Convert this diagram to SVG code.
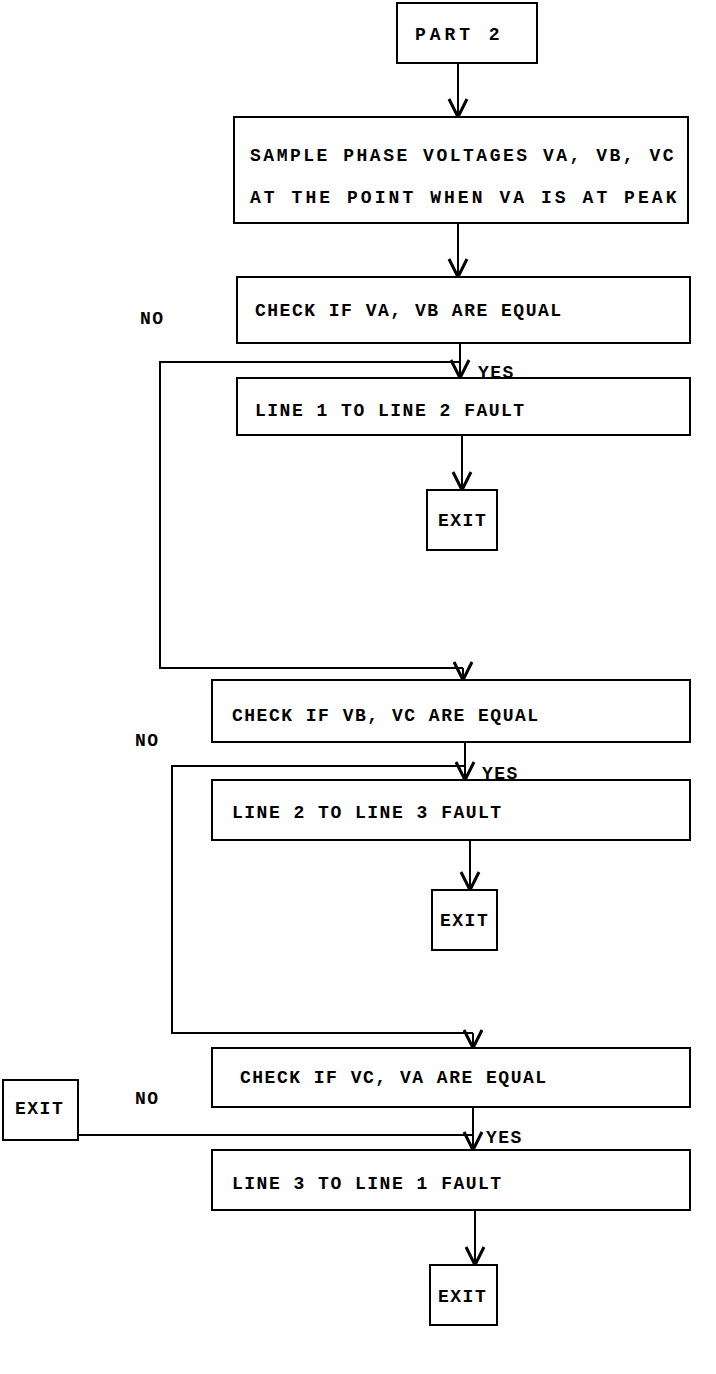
<svg xmlns="http://www.w3.org/2000/svg" width="716" height="1374" viewBox="0 0 716 1374">
<defs>
<marker id="ah" markerUnits="userSpaceOnUse" markerWidth="24" markerHeight="24" viewBox="-14 -8 16 16" refX="0" refY="0" orient="auto">
<path d="M-12,-6 L0,0 L-12,6" fill="none" stroke="#000" stroke-width="2"/>
</marker>
</defs>
<style>
rect{fill:#fff;stroke:#000;stroke-width:2}
text{font-family:"Liberation Mono","DejaVu Sans Mono",monospace;font-size:18px;font-weight:bold;letter-spacing:1.5px;fill:#000}
.c path{fill:none;stroke:#000;stroke-width:2}
.c .a{marker-end:url(#ah)}
</style>
<rect x="0" y="0" width="716" height="1374" style="fill:#fff;stroke:none"/>
<g class="c" id="connectors">
<path class="a" d="M458,63 V117"/>
<path class="a" d="M458,223 V277"/>
<path class="a" d="M460,343 V378"/>
<path d="M460,362 H160 V668 H463"/>
<path class="a" d="M463,668 V680"/>
<path class="a" d="M462,435 V490"/>
<path class="a" d="M465,742 V780"/>
<path d="M465,766 H172 V1033 H473"/>
<path class="a" d="M473,1033 V1048"/>
<path class="a" d="M470,840 V890"/>
<path class="a" d="M473,1107 V1150"/>
<path d="M473,1135 H78"/>
<path class="a" d="M475,1210 V1265"/>
</g>
<g id="n-part2"><rect x="397" y="3" width="140" height="60"/><text x="415" y="40" textLength="86" lengthAdjust="spacing">PART 2</text></g>
<g id="n-sample"><rect x="234" y="117" width="454" height="106"/><text x="250" y="161" textLength="425" lengthAdjust="spacing">SAMPLE PHASE VOLTAGES VA, VB, VC</text><text x="250" y="203" textLength="428" lengthAdjust="spacing">AT THE POINT WHEN VA IS AT PEAK</text></g>
<g id="n-check1"><rect x="237" y="277" width="453" height="66"/><text x="255" y="316">CHECK IF VA, VB ARE EQUAL</text></g>
<g id="l-no1"><text x="140" y="324">NO</text></g>
<g id="l-yes1"><text x="478" y="378">YES</text></g>
<g id="n-fault12"><rect x="237" y="378" width="453" height="57"/><text x="255" y="416">LINE 1 TO LINE 2 FAULT</text></g>
<g id="n-exit1"><rect x="427" y="490" width="70" height="60"/><text x="438" y="526">EXIT</text></g>
<g id="n-check2"><rect x="212" y="680" width="478" height="62"/><text x="232" y="721">CHECK IF VB, VC ARE EQUAL</text></g>
<g id="l-no2"><text x="135" y="746">NO</text></g>
<g id="l-yes2"><text x="482" y="779">YES</text></g>
<g id="n-fault23"><rect x="212" y="780" width="478" height="60"/><text x="232" y="818">LINE 2 TO LINE 3 FAULT</text></g>
<g id="n-exit2"><rect x="432" y="890" width="65" height="60"/><text x="440" y="926">EXIT</text></g>
<g id="n-check3"><rect x="212" y="1048" width="478" height="59"/><text x="240" y="1083">CHECK IF VC, VA ARE EQUAL</text></g>
<g id="l-no3"><text x="135" y="1104">NO</text></g>
<g id="n-exitL"><rect x="3" y="1080" width="75" height="60"/><text x="15" y="1114">EXIT</text></g>
<g id="l-yes3"><text x="486" y="1143">YES</text></g>
<g id="n-fault31"><rect x="212" y="1150" width="478" height="60"/><text x="232" y="1189">LINE 3 TO LINE 1 FAULT</text></g>
<g id="n-exit3"><rect x="430" y="1265" width="67" height="60"/><text x="438" y="1302">EXIT</text></g>
</svg>
